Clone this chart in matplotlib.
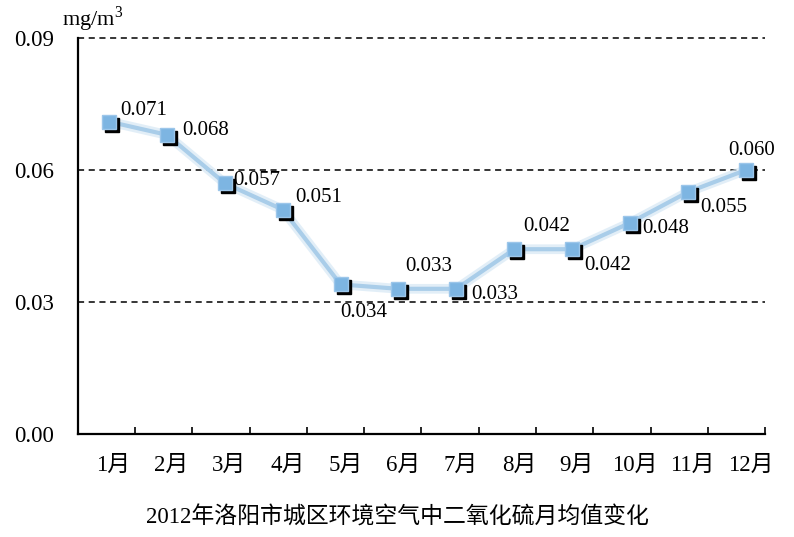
import matplotlib
matplotlib.use("Agg")
import matplotlib.pyplot as plt
import matplotlib.transforms as mtransforms
import numpy as np

plt.rcParams["font.family"] = ["Liberation Serif", "Noto Sans CJK SC"]
plt.rcParams["mathtext.fontset"] = "custom"
plt.rcParams["mathtext.rm"] = "Liberation Serif"

MONTHS = ["1月", "2月", "3月", "4月", "5月", "6月", "7月", "8月", "9月", "10月", "11月", "12月"]
SO2 = [0.071, 0.068, 0.057, 0.051, 0.034, 0.033, 0.033, 0.042, 0.042, 0.048, 0.055, 0.060]
Y_TICKS = [0.00, 0.03, 0.06, 0.09]
TITLE = "2012年洛阳市城区环境空气中二氧化硫月均值变化"
UNIT = "mg/m$^3$"

# label placement: offset in points + horizontal alignment
LABEL_OFFSETS = [(8, 8), (11, 3), (6, 2), (9, 9), (17, -20), (22, 16),
                 (11, -4), (23, 16), (9, -12), (9, -4), (9, -11), (4, 14)]
LABEL_HA = ["left", "left", "left", "left", "center", "center",
            "left", "center", "left", "left", "left", "center"]

fig = plt.figure(figsize=(7.94, 5.37), dpi=100)
ax = fig.add_axes([0.0982, 0.1918, 0.8653, 0.7374])

x = np.arange(len(MONTHS))
x0, x1 = -0.535, 11.33
ax.set_xlim(x0, x1)
ax.set_ylim(0, 0.09)

for s in ["top", "right"]:
    ax.spines[s].set_visible(False)
ax.spines["left"].set_linewidth(1.6)
ax.spines["bottom"].set_linewidth(1.6)

for yv in Y_TICKS[1:]:
    ax.axhline(yv, color="black", linewidth=1.1, linestyle=(0, (4, 3)), zorder=1, clip_on=False)

line_color = "#a9cde9"
ax.plot(x, SO2, color="#d6e8f5", linewidth=7, zorder=2, alpha=0.7)
ax.plot(x, SO2, color=line_color, linewidth=3, zorder=2)
shadow = mtransforms.offset_copy(ax.transData, fig=fig, x=3, y=-3, units="dots")
ax.plot(x, SO2, "s", color="black", markersize=10.5, transform=shadow, zorder=3)
ax.plot(x, SO2, "s", color="#7db5e2", markeredgecolor="#9cc6ea", markersize=10.5, zorder=4)

for xi, yi, off, ha in zip(x, SO2, LABEL_OFFSETS, LABEL_HA):
    ax.annotate(f"{yi:.3f}", (xi, yi), xytext=off, textcoords="offset points",
                ha=ha, va="center", fontsize=15, zorder=5)

# boundary ticks along the x axis
ax.set_xticks(np.linspace(x0, x1, 13))
ax.set_xticklabels([])
ax.tick_params(axis="x", direction="in", length=5, width=1.2)
for xi, m in zip(x, MONTHS):
    ax.text(xi + 0.08, -0.0072, m, ha="center", va="center", fontsize=16.5)

ax.set_yticks(Y_TICKS)
ax.set_yticklabels([f"{v:.2f}" for v in Y_TICKS], fontsize=16.5)
ax.tick_params(axis="y", length=0, pad=17)

ax.text(-0.023, 1.01, UNIT, transform=ax.transAxes, ha="left", va="bottom", fontsize=16)

fig.text(0.5, 0.037, TITLE, ha="center", va="center", fontsize=16.5)

fig.savefig("out.png", dpi=100)
